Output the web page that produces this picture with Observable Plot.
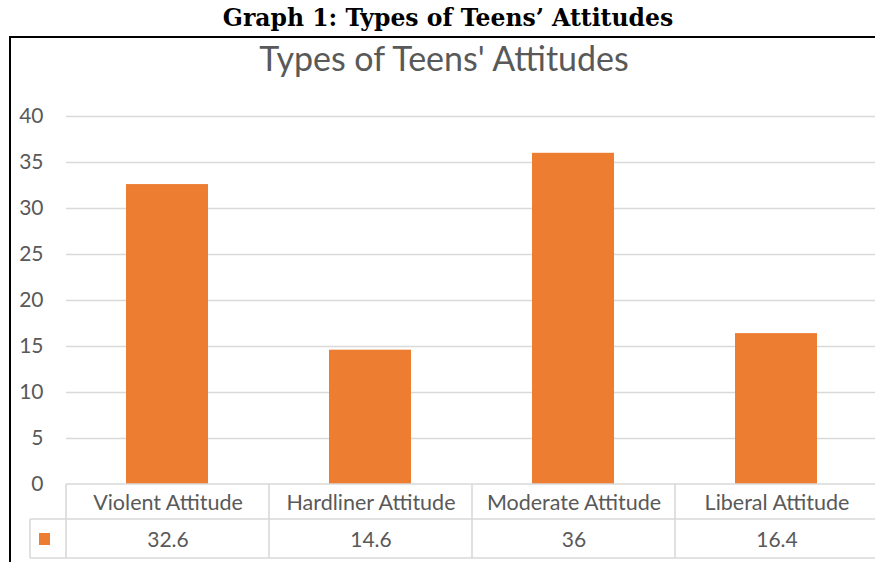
<!DOCTYPE html>
<html>
<head>
<meta charset="utf-8">
<script src="https://cdn.jsdelivr.net/npm/d3@7"></script>
<script src="https://cdn.jsdelivr.net/npm/@observablehq/plot@0.6"></script>
<style>
  html, body { margin: 0; padding: 0; background: #fff; width: 875px; height: 562px; overflow: hidden; }
  #page { position: relative; width: 875px; height: 562px; }
  #maintitle { position: absolute; left: 0; width: 896px; top: 3px; text-align: center;
    font-family: "DejaVu Serif", serif; font-weight: bold; font-size: 23.5px; color: #000; line-height: 30px; }
  #frame { position: absolute; left: 9px; top: 36px; width: 870px; height: 530px;
    border-top: 2px solid #000; border-left: 2px solid #000; }
  #charttitle { position: absolute; left: 0; width: 888px; top: 38px; text-align: center;
    font-family: Lato, sans-serif; font-size: 34px; color: #595959; line-height: 40px; }
  #chart { position: absolute; left: 11px; top: 38px; }
</style>
</head>
<body>
<div id="page">
  <div id="maintitle"></div>
  <div id="frame"></div>
  <div id="charttitle"></div>
  <div id="chart"></div>
</div>
<script>
const mainTitle = "Graph 1: Types of Teens’ Attitudes";
const chartTitle = "Types of Teens' Attitudes";
const categories = ["Violent Attitude", "Hardliner Attitude", "Moderate Attitude", "Liberal Attitude"];
const values = [32.6, 14.6, 36, 16.4];
const valueLabels = ["32.6", "14.6", "36", "16.4"];
const yTicks = [0, 5, 10, 15, 20, 25, 30, 35, 40];

document.getElementById("maintitle").textContent = mainTitle;
document.getElementById("charttitle").textContent = chartTitle;

const data = categories.map((c, i) => ({category: c, value: values[i], label: valueLabels[i]}));

const barColor = "#ED7D31";
const textColor = "#595959";
const gridColor = "#d9d9d9";

function tableGrid(index, scales, vals, dims) {
  const ns = "http://www.w3.org/2000/svg";
  const g = document.createElementNS(ns, "g");
  const x = scales.x, y = scales.y;
  const y0 = y(0);
  const bw = x.bandwidth ? (typeof x.bandwidth === "function" ? x.bandwidth() : x.bandwidth)
                         : (x(categories[1]) - x(categories[0]));
  const left = x(categories[0]);
  const right = x(categories[categories.length - 1]) + bw;
  const legendLeft = left - 36;
  const row1 = y0 + 35, row2 = y0 + 74;
  const line = (x1, y1, x2, y2) => {
    const l = document.createElementNS(ns, "line");
    l.setAttribute("x1", x1); l.setAttribute("y1", y1);
    l.setAttribute("x2", x2); l.setAttribute("y2", y2);
    l.setAttribute("stroke", gridColor); l.setAttribute("stroke-width", 1.6);
    g.appendChild(l);
  };
  line(left, y0, right, y0);
  line(legendLeft, row1, right, row1);
  line(legendLeft, row2, right, row2);
  line(legendLeft, row1, legendLeft, row2);
  categories.forEach(c => line(x(c), y0, x(c), row2));
  line(right, y0, right, row2);
  const r = document.createElementNS(ns, "rect");
  r.setAttribute("x", legendLeft + 9); r.setAttribute("y", y0 + 49);
  r.setAttribute("width", 11); r.setAttribute("height", 12);
  r.setAttribute("fill", barColor);
  g.appendChild(r);
  return g;
}

const chart = Plot.plot({
  width: 864,
  height: 524,
  marginTop: 78,
  marginBottom: 78,
  marginLeft: 55,
  marginRight: -3,
  style: {fontFamily: "Lato, sans-serif", fontSize: "21px", color: textColor, background: "transparent"},
  x: {domain: categories, padding: 0, axis: null},
  y: {domain: [0, 40], axis: null},
  marks: [
    Plot.ruleY(yTicks.filter(d => d > 0), {stroke: gridColor, strokeWidth: 1.6}),
    Plot.barY(data, {x: "category", y: "value", fill: barColor, insetLeft: 60, insetRight: 61}),
    Plot.axisY({ticks: yTicks, tickSize: 0, tickPadding: 23, tickFormat: d => String(d), fontSize: 21, fill: textColor, label: null}),
    tableGrid,
    Plot.text(data, {x: "category", y: d => 0, text: "category", dy: 19, fontSize: 21.5, fill: textColor}),
    Plot.text(data, {x: "category", y: d => 0, text: "label", dy: 56, fontSize: 21, fill: textColor})
  ]
});
document.getElementById("chart").appendChild(chart);
</script>
</body>
</html>
